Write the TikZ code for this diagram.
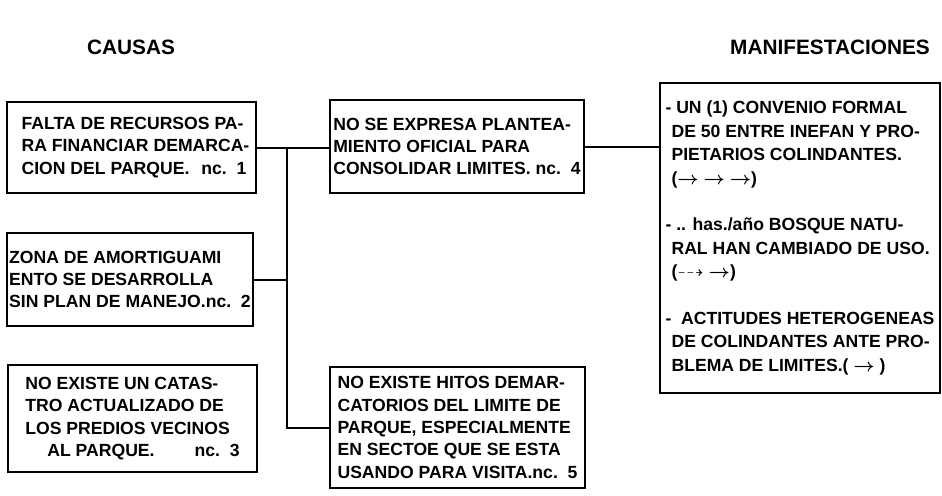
\documentclass[tikz,border=0pt]{standalone}
\usepackage{amsmath}
\usepackage{amssymb}
\usepackage{fontspec}
\setmainfont{Liberation Sans}
\usetikzlibrary{calc}
\tikzset{
  causebox/.style={
    rectangle, draw, line width=1.2pt,
    align=left, inner sep=1pt,
    font=\fontsize{8.8pt}{11.2pt}\selectfont\bfseries,
  },
  manifbox/.style={causebox, font=\fontsize{8.8pt}{11.7pt}\selectfont\bfseries},
  headtext/.style={font=\fontsize{10.4pt}{12pt}\selectfont\bfseries},
  link/.style={line width=1pt},
}
\newcommand{\tendarrow}{$\boldsymbol{\rightarrow}$}

\begin{document}
\begin{tikzpicture}[x=0.5pt, y=-0.5pt]
  \useasboundingbox (0,0) rectangle (942,495);

  % ---- Titulos ----
  \node[headtext] (tcaus) at (131,47) {CAUSAS};
  \node[headtext] (tmanif) at (830,47) {MANIFESTACIONES};

  % ---- Causas ----
  \node[causebox, minimum width=124.5pt, minimum height=45.5pt] (c1) at (131.5,147.5)
    {\hspace*{4pt}FALTA DE RECURSOS PA-\\\hspace*{4pt}RA FINANCIAR DEMARCA-\\
     \hspace*{4pt}CION DEL PARQUE.\hspace{6pt}nc.\ \ 1};
  \node[causebox, minimum width=123pt, minimum height=46.5pt] (c2) at (130,279.5)
    {ZONA DE AMORTIGUAMI\\ENTO SE DESARROLLA\\SIN PLAN DE MANEJO.nc.\ \ 2};
  \node[causebox, minimum width=124.5pt, minimum height=53.5pt] (c3) at (132.5,418.5)
    {NO EXISTE UN CATAS-\\TRO ACTUALIZADO DE\\LOS PREDIOS VECINOS\\
     \hspace*{11pt}AL PARQUE.\hspace{20pt}nc.\ \ 3};

  % ---- Efectos intermedios ----
  \node[causebox, minimum width=127pt, minimum height=46.5pt] (c4) at (457,146.5)
    {NO SE EXPRESA PLANTEA-\\MIENTO OFICIAL PARA\\CONSOLIDAR LIMITES. nc.\ \ 4};
  \node[causebox, minimum width=127.5pt, minimum height=60.5pt] (c5) at (457.5,427.5)
    {NO EXISTE HITOS DEMAR-\\CATORIOS DEL LIMITE DE\\PARQUE, ESPECIALMENTE\\
     EN SECTOE QUE SE ESTA\\USANDO PARA VISITA.nc.\ \ 5};

  % ---- Manifestaciones ----
  \node[manifbox, minimum width=140pt, minimum height=155pt] (m1) at (800,238)
    {- UN (1) CONVENIO FORMAL\\
     \hspace*{3pt}DE 50 ENTRE INEFAN Y PRO-\\
     \hspace*{3pt}PIETARIOS COLINDANTES.\\
     \hspace*{3pt}(\tendarrow\ \tendarrow\ \tendarrow)\\[11.7pt]
     - .. has./año BOSQUE NATU-\\
     \hspace*{3pt}RAL HAN CAMBIADO DE USO.\\
     \hspace*{3pt}($\dashrightarrow$ \tendarrow)\\[11.7pt]
     -\ \ ACTITUDES HETEROGENEAS\\
     \hspace*{3pt}DE COLINDANTES ANTE PRO-\\
     \hspace*{3pt}BLEMA DE LIMITES.( \tendarrow\ )};

  % ---- Conexiones ----
  \coordinate (bustop) at (287,147.5);
  \draw[link] (c1.east) -- (c1.east -| c4.west);
  \draw[link] (c2.east) -- (c2.east -| bustop);
  \draw[link] (bustop) |- (c5.west);
  \draw[link] (c4.east) -- (c4.east -| m1.west);
\end{tikzpicture}
\end{document}
